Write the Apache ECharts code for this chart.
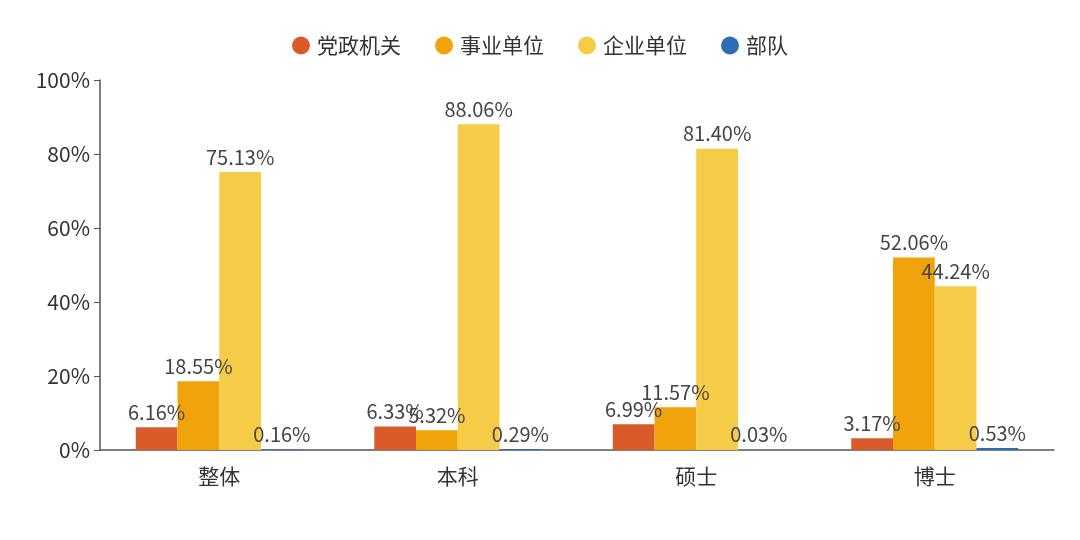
<!DOCTYPE html>
<html><head><meta charset="utf-8">
<script src="https://cdn.jsdelivr.net/npm/echarts@6/dist/echarts.min.js"></script>
<style>html,body{margin:0;padding:0;background:#fff}#c{width:1080px;height:540px}</style>
</head><body><div id="c"></div>
<script>
const categories = ['整体', '本科', '硕士', '博士'];
const seriesNames = ['党政机关', '事业单位', '企业单位', '部队'];
const dangzheng = [6.16, 6.33, 6.99, 3.17];
const shiye = [18.55, 5.32, 11.57, 52.06];
const qiye = [75.13, 88.06, 81.40, 44.24];
const budui = [0.16, 0.29, 0.03, 0.53];
const yTicks = [0, 20, 40, 60, 80, 100];
const colors = ['#D95B2A', '#F0A30A', '#F5CB47', '#2E6DB4'];

const values = [dangzheng, shiye, qiye, budui];
const chart = echarts.init(document.getElementById('c'));
const font = '"Noto Sans CJK SC", "Noto Sans", sans-serif';
chart.setOption({
  animation: false,
  color: colors,
  textStyle: { fontFamily: font },
  legend: {
    top: 30, left: 'center',
    icon: 'circle', itemWidth: 18, itemHeight: 18, itemGap: 34,
    textStyle: { fontSize: 21, color: '#333', fontFamily: font, padding: [0, 0, 0, 2] },
    data: seriesNames
  },
  grid: { left: 100, right: 26, top: 80, bottom: 90 },
  xAxis: {
    type: 'category', data: categories,
    axisLine: { lineStyle: { color: '#555', width: 1.5 } },
    axisTick: { alignWithLabel: true, length: 6, lineStyle: { color: '#555' } },
    axisLabel: { fontSize: 21, color: '#333', margin: 16, fontFamily: font }
  },
  yAxis: {
    type: 'value', min: yTicks[0], max: yTicks[yTicks.length - 1], interval: 20,
    axisLine: { show: true, lineStyle: { color: '#555', width: 1.5 } },
    axisTick: { show: true, length: 6, lineStyle: { color: '#555' } },
    splitLine: { show: false },
    axisLabel: { fontSize: 21, color: '#333', margin: 10, formatter: '{value}%', fontFamily: font }
  },
  series: seriesNames.map((n, i) => ({
    name: n, type: 'bar', data: values[i],
    barGap: '0%', barCategoryGap: '30%',
    label: {
      show: true, position: 'top', distance: 5,
      fontSize: 20, color: '#444', fontFamily: font,
      formatter: p => p.value.toFixed(2) + '%'
    }
  }))
});
</script></body></html>
